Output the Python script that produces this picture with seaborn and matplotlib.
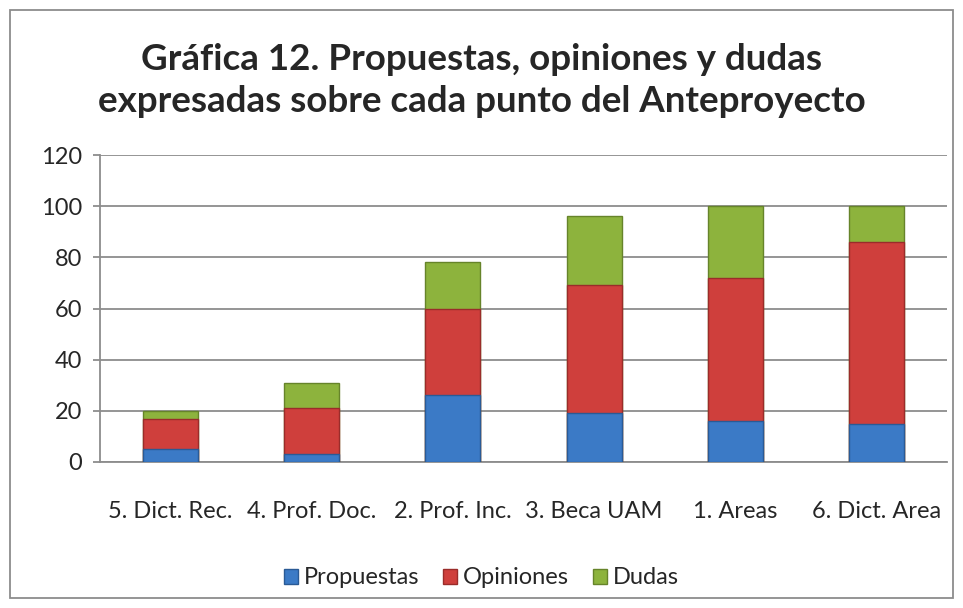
import matplotlib
matplotlib.use("Agg")
import matplotlib.pyplot as plt
import seaborn as sns
import pandas as pd
import numpy as np
from matplotlib.patches import Patch, Rectangle

# datos
categorias = ["5. Dict. Rec.", "4. Prof. Doc.", "2. Prof. Inc.", "3. Beca UAM", "1. Areas", "6. Dict. Area"]
propuestas = [5, 3, 26, 19, 16, 15]
opiniones = [12, 18, 34, 50, 56, 71]
dudas = [3, 10, 18, 27, 28, 14]

series = ["Propuestas", "Opiniones", "Dudas"]
colores = ["#3B7AC6", "#CF3F3C", "#8DB33D"]
bordes = ["#2A5A95", "#9A2C2A", "#66842A"]

df = pd.DataFrame({
    "cat": categorias,
    "Propuestas": propuestas,
    "Opiniones": opiniones,
    "Dudas": dudas,
})
# acumulados para apilar (se dibuja del total hacia abajo)
df["c1"] = df["Propuestas"]
df["c2"] = df["c1"] + df["Opiniones"]
df["c3"] = df["c2"] + df["Dudas"]

sns.set_style("white")
plt.rcParams["font.family"] = ["Lato", "DejaVu Sans"]

fig = plt.figure(figsize=(9.63, 6.08), dpi=100)
ax = fig.add_axes([100/963, 1 - 462/608, 847/963, 307/608])

for col, c, e in zip(["c3", "c2", "c1"], colores[::-1], bordes[::-1]):
    sns.barplot(data=df, x="cat", y=col, color=c, width=0.39,
                edgecolor=e, linewidth=1.0, saturation=1, ax=ax, zorder=3)

ax.set_ylim(0, 120)
ax.set_yticks(range(0, 121, 20))
ax.set_xlim(-0.5, 5.5)
ax.yaxis.grid(True, color="#8C8C8C", linewidth=1.3, zorder=0)
ax.set_axisbelow(True)
for s in ["top", "right"]:
    ax.spines[s].set_visible(False)
ax.spines["left"].set_color("#8C8C8C")
ax.spines["left"].set_linewidth(1.3)
ax.spines["bottom"].set_color("#8C8C8C")
ax.spines["bottom"].set_linewidth(1.3)
ax.tick_params(axis="y", length=5, color="#8C8C8C", width=1.3, labelsize=17, pad=8, left=True)
ax.tick_params(axis="x", length=0, labelsize=17, pad=28)
ax.set_xlabel("")
ax.set_ylabel("")

fig.text(0.5, 1 - 60/608, "Gráfica 12. Propuestas, opiniones y dudas",
         ha="center", va="center", fontsize=26.5, fontweight="bold")
fig.text(0.5, 1 - 102/608, "expresadas sobre cada punto del Anteproyecto",
         ha="center", va="center", fontsize=26.5, fontweight="bold")

handles = [Patch(facecolor=c, edgecolor=e, label=s) for s, c, e in zip(series, colores, bordes)]
fig.legend(handles=handles, loc="center", bbox_to_anchor=(0.5, 1 - 578/608), ncol=3,
           frameon=False, fontsize=17, handlelength=0.6, handleheight=0.6,
           handletextpad=0.25, columnspacing=1.0)

fig.patches.append(Rectangle((10/963, 10/608), 943/963, 588/608, transform=fig.transFigure,
                             fill=False, edgecolor="#8C8C8C", linewidth=1.3))

fig.savefig("out.png", dpi=100)
